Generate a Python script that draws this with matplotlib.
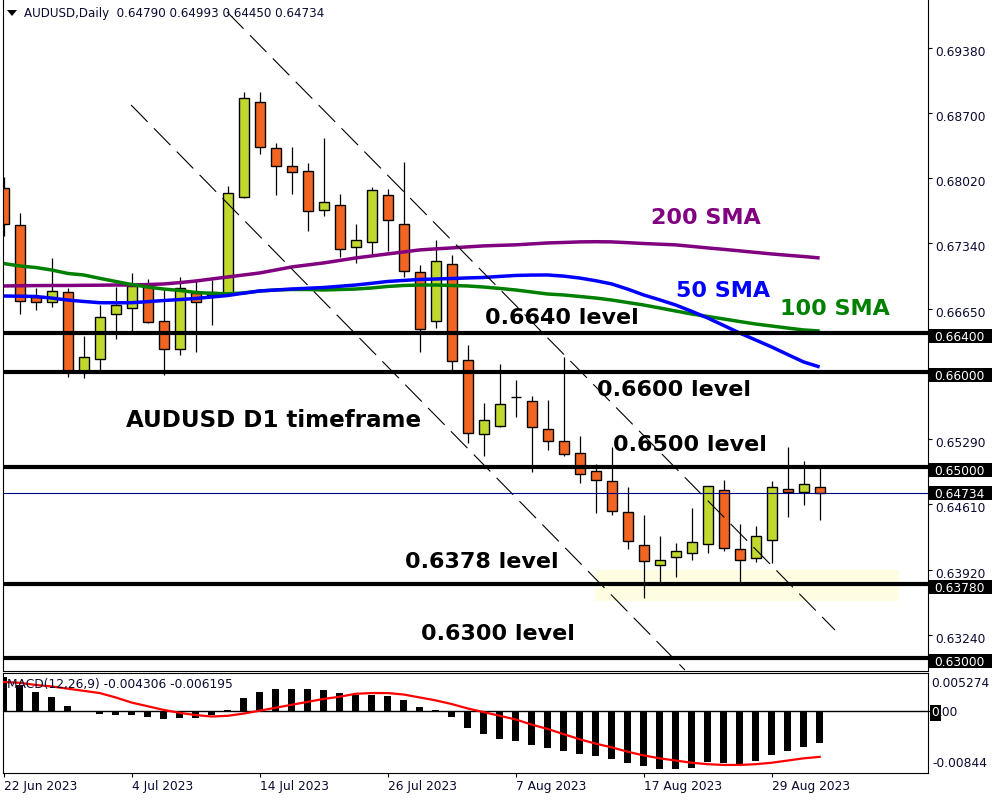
import numpy as np
import matplotlib
matplotlib.use('Agg')
import matplotlib.pyplot as plt
import matplotlib.transforms as mtransforms
from matplotlib.patches import Rectangle, Polygon

plt.rcParams['lines.scale_dashes'] = False

# ---- AUDUSD daily candles, 22 Jun 2023 .. 1 Sep 2023 ----
opens = [0.67917, 0.67530, 0.66780, 0.66727, 0.66832, 0.65995, 0.66131, 0.66602, 0.66665, 0.66895,
         0.66529, 0.66236, 0.66822, 0.66801, 0.66822, 0.67826, 0.68819, 0.68338, 0.68147, 0.68095,
         0.67687, 0.67739, 0.67300, 0.67352, 0.67843, 0.67540, 0.67038, 0.66526, 0.67122, 0.66118,
         0.65344, 0.65434, 0.65732, 0.65689, 0.65396, 0.65270, 0.65145, 0.64957, 0.64852, 0.64528,
         0.64183, 0.63973, 0.64057, 0.64099, 0.64193, 0.64758, 0.64141, 0.64047, 0.64235, 0.64768,
         0.64737, 0.64790]
highs = [0.68035, 0.67661, 0.66874, 0.67188, 0.66874, 0.66372, 0.66696, 0.66884, 0.67031, 0.66968,
         0.66853, 0.66989, 0.66947, 0.66958, 0.67941, 0.68924, 0.68924, 0.68391, 0.68349, 0.68181,
         0.68443, 0.67857, 0.67543, 0.67930, 0.67909, 0.68189, 0.67111, 0.67373, 0.67216, 0.66275,
         0.65668, 0.66076, 0.65912, 0.65744, 0.65702, 0.66149, 0.65326, 0.65033, 0.65214, 0.64795,
         0.64499, 0.64283, 0.64203, 0.64573, 0.64803, 0.64862, 0.64402, 0.64381, 0.64852, 0.65208,
         0.65061, 0.64993]
lows = [0.67418, 0.66602, 0.66644, 0.66675, 0.65943, 0.65932, 0.66006, 0.66340, 0.66403, 0.66508,
        0.65964, 0.66173, 0.66204, 0.66487, 0.66801, 0.67815, 0.68276, 0.67847, 0.67857, 0.67473,
        0.67630, 0.67201, 0.67135, 0.67230, 0.67264, 0.66986, 0.66208, 0.66452, 0.66016, 0.65249,
        0.65120, 0.65423, 0.65528, 0.64952, 0.65179, 0.65120, 0.64837, 0.64524, 0.64499, 0.64144,
        0.63628, 0.63795, 0.63854, 0.64024, 0.64102, 0.64120, 0.63785, 0.64005, 0.63994, 0.64482,
        0.64601, 0.64450]
closes = [0.67540, 0.66735, 0.66727, 0.66842, 0.65995, 0.66152, 0.66571, 0.66696, 0.66895, 0.66518,
          0.66236, 0.66874, 0.66727, 0.66832, 0.67868, 0.68861, 0.68349, 0.68150, 0.68084, 0.67676,
          0.67770, 0.67279, 0.67373, 0.67896, 0.67582, 0.67049, 0.66442, 0.67153, 0.66107, 0.65354,
          0.65490, 0.65664, 0.65730, 0.65417, 0.65270, 0.65134, 0.64925, 0.64862, 0.64538, 0.64224,
          0.64015, 0.64026, 0.64120, 0.64214, 0.64800, 0.64151, 0.64026, 0.64277, 0.64789, 0.64737,
          0.64821, 0.64734]

sma50 = [0.66790, 0.66788, 0.66785, 0.66768, 0.66748, 0.66733, 0.66720, 0.66719, 0.66720, 0.66731,
         0.66743, 0.66753, 0.66764, 0.66780, 0.66795, 0.66820, 0.66843, 0.66853, 0.66863, 0.66871,
         0.66879, 0.66892, 0.66905, 0.66923, 0.66942, 0.66953, 0.66963, 0.66968, 0.66973, 0.66979,
         0.66984, 0.66995, 0.67005, 0.67009, 0.67010, 0.66998, 0.66978, 0.66950, 0.66916, 0.66862,
         0.66801, 0.66750, 0.66696, 0.66630, 0.66560, 0.66482, 0.66403, 0.66330, 0.66257, 0.66178,
         0.66100, 0.66048]
sma100 = [0.67130, 0.67104, 0.67088, 0.67062, 0.67026, 0.67010, 0.66975, 0.66942, 0.66910, 0.66884,
          0.66863, 0.66848, 0.66827, 0.66818, 0.66813, 0.66822, 0.66842, 0.66853, 0.66858, 0.66858,
          0.66853, 0.66858, 0.66863, 0.66874, 0.66890, 0.66900, 0.66905, 0.66905, 0.66900, 0.66895,
          0.66884, 0.66869, 0.66853, 0.66832, 0.66811, 0.66801, 0.66785, 0.66769, 0.66748, 0.66722,
          0.66696, 0.66665, 0.66633, 0.66602, 0.66576, 0.66550, 0.66523, 0.66497, 0.66476, 0.66455,
          0.66435, 0.66424]
sma200 = [0.66895, 0.66897, 0.66899, 0.66900, 0.66900, 0.66902, 0.66903, 0.66905, 0.66905, 0.66910,
          0.66916, 0.66930, 0.66947, 0.66968, 0.66989, 0.67010, 0.67031, 0.67062, 0.67094, 0.67115,
          0.67136, 0.67162, 0.67188, 0.67209, 0.67230, 0.67251, 0.67272, 0.67283, 0.67293, 0.67304,
          0.67314, 0.67320, 0.67325, 0.67335, 0.67345, 0.67350, 0.67356, 0.67358, 0.67356, 0.67348,
          0.67339, 0.67332, 0.67325, 0.67309, 0.67293, 0.67278, 0.67262, 0.67246, 0.67230, 0.67216,
          0.67203, 0.67188]

# MACD(12,26,9): main as histogram, signal as line
macd_main = [0.0047, 0.0036, 0.0027, 0.0020, 0.0008, 0.00005, -0.0004, -0.00055, -0.00055, -0.0007,
             -0.0011, -0.0009, -0.0009, -0.0005, 0.0002, 0.0018, 0.0026, 0.0030, 0.0031, 0.0030,
             0.0029, 0.0025, 0.0022, 0.0022, 0.0021, 0.0015, 0.0006, 0.0002, -0.0008, -0.0022,
             -0.0031, -0.0037, -0.0040, -0.0046, -0.0050, -0.0054, -0.0058, -0.0061, -0.0065, -0.0071,
             -0.0075, -0.0079, -0.0079, -0.0077, -0.0069, -0.0071, -0.0072, -0.0068, -0.0060, -0.0054,
             -0.0048, -0.0043]
macd_signal = [0.0040, 0.0039, 0.0036, 0.0034, 0.0031, 0.0028, 0.0025, 0.0019, 0.0012, 0.0007,
               0.0002, -0.0002, -0.0005, -0.0007, -0.0006, -0.0003, 0.0001, 0.0005, 0.0009, 0.0013,
               0.0017, 0.0020, 0.0024, 0.0025, 0.0025, 0.0023, 0.0019, 0.0015, 0.0010, 0.0004,
               -0.0001, -0.0006, -0.0011, -0.0018, -0.0024, -0.0031, -0.0038, -0.0044, -0.0049, -0.0055,
               -0.0060, -0.0064, -0.0067, -0.0070, -0.0072, -0.0073, -0.0073, -0.0072, -0.0070, -0.0067,
               -0.0064, -0.0062]

date_labels = ['22 Jun 2023', '4 Jul 2023', '14 Jul 2023', '26 Jul 2023',
               '7 Aug 2023', '17 Aug 2023', '29 Aug 2023']
date_bars = [0, 8, 16, 24, 32, 40, 48]

price_ticks = [0.69380, 0.68700, 0.68020, 0.67340, 0.66650, 0.65290, 0.64610, 0.63920, 0.63240]
levels = [0.6640, 0.6600, 0.6500, 0.6378, 0.6300]
level_names = ['0.6640 level', '0.6600 level', '0.6500 level', '0.6378 level', '0.6300 level']
last_price = 0.64734

# support zone (bar range, price range)
zone_bars = [36.96, 55.96]
zone_prices = [0.6360, 0.6392]

# hand-drawn channel (bar index, price)
chan_upper = ([13.96, 51.96], [0.69761, 0.63296])
chan_lower = ([7.96, 42.58], [0.68788, 0.62878])

up_col = '#c2d72f'
down_col = '#f26522'
txt_col = '#0a0a30'
small = 8.8

opens = np.array(opens); closes = np.array(closes)
x = np.arange(len(opens))

fig = plt.figure(figsize=(10, 8), dpi=100)
ax = fig.add_axes([0.0027, 0.161625, 0.9256, 0.838375])
ax2 = fig.add_axes([0.0027, 0.033375, 0.9256, 0.12575])

xlim = (-0.0625, 57.79)
ax.set_xlim(*xlim)
ax.set_ylim(0.62871, 0.69886)

# zone
ax.add_patch(Rectangle((zone_bars[0], zone_prices[0]), zone_bars[1] - zone_bars[0],
                       zone_prices[1] - zone_prices[0], facecolor='#fffde1', edgecolor='none', zorder=0.5))

# candles
colors = np.where(closes >= opens, up_col, down_col)
ax.vlines(x, lows, highs, color='black', lw=0.9, zorder=2)
ax.bar(x, np.abs(closes - opens), bottom=np.minimum(opens, closes), width=0.64,
       color=colors, edgecolor='black', linewidth=1.0, zorder=2.2)

# moving averages
ax.plot(x, sma200, color='#800080', lw=2.5, zorder=3, solid_capstyle='butt')
ax.plot(x, sma100, color='#008000', lw=2.5, zorder=3, solid_capstyle='butt')
ax.plot(x, sma50, color='#0000ff', lw=2.5, zorder=3, solid_capstyle='butt')

# channel lines
for cx, cy in (chan_upper, chan_lower):
    ax.plot(cx, cy, color='black', lw=0.8, ls=(0, (17, 6.5)), zorder=3.5)

# horizontal levels
for lv in levels:
    ax.axhline(lv, color='black', lw=3, zorder=4)
ax.axhline(last_price, color='#000080', lw=0.8, zorder=3.8)

# annotations
fs = 16
ax.text(40.46, 0.67606, '200 SMA', color='#800080', fontsize=fs, fontweight='bold', va='center', zorder=5)
ax.text(42.02, 0.66842, '50 SMA', color='#0000ff', fontsize=fs, fontweight='bold', va='center', zorder=5)
ax.text(48.52, 0.66654, '100 SMA', color='#008000', fontsize=fs, fontweight='bold', va='center', zorder=5)
ax.text(7.64, 0.65493, 'AUDUSD D1 timeframe', color='black', fontsize=16.6, fontweight='bold',
        va='center', zorder=5)
name_pos = [(30.08, 0.66560), (37.08, 0.65807), (38.08, 0.65232), (25.08, 0.64008), (26.08, 0.63255)]
for (tx, ty), name in zip(name_pos, level_names):
    ax.text(tx, ty, name, color='black', fontsize=fs, fontweight='bold', va='center', zorder=5)

# right price axis
ax.set_xticks([])
ax.yaxis.tick_right()
ax.set_yticks(price_ticks)
ax.set_yticklabels([f'{t:.5f}' for t in price_ticks])
ax.tick_params(axis='y', direction='out', length=3, width=0.8, pad=2, labelsize=small, labelcolor=txt_col)
shift = mtransforms.ScaledTranslation(0, -2.5 / 100, fig.dpi_scale_trans)
for lab in ax.get_yticklabels():
    lab.set_transform(lab.get_transform() + shift)
for s in ax.spines.values():
    s.set_linewidth(0.8)
ax.spines['top'].set_visible(False)

# black price boxes on the axis
px = 0.0001046
btrans = mtransforms.blended_transform_factory(ax.transAxes, ax.transData)
for lv in levels + [last_price]:
    off = 0 if lv == last_price else 3 * px
    ax.add_patch(Rectangle((1.0007, lv - off - 7 * px), 0.068, 14 * px, transform=btrans,
                           facecolor='black', edgecolor='none', clip_on=False, zorder=10))
    ax.text(1.0062, lv - off, f'{lv:.5f}', transform=btrans, color='white', fontsize=small,
            va='center_baseline', ha='left', clip_on=False, zorder=11)

# MACD panel
ax2.set_xlim(*xlim)
ax2.set_ylim(-0.00844, 0.005274)
ax2.bar(x, macd_main, width=0.42, color='black', zorder=2)
ax2.plot(x, macd_signal, color='#ff0000', lw=1.6, zorder=3)
ax2.axhline(0, color='black', lw=1.0, zorder=2.5)
ax2.set_xticks(date_bars)
ax2.set_xticklabels(date_labels, ha='left')
ax2.tick_params(axis='x', direction='out', length=3, width=0.8, pad=1.5, labelsize=small, labelcolor=txt_col)
ax2.yaxis.tick_right()
ax2.set_yticks([0])
ax2.set_yticklabels([''])
ax2.tick_params(axis='y', direction='out', length=3, width=0.8)
for s in ax2.spines.values():
    s.set_linewidth(0.8)

ax2.text(1.0032, 0.8976, '0.005274', transform=ax2.transAxes, fontsize=small, color=txt_col,
         va='center', ha='left', clip_on=False)
ax2.text(1.0042, 0.102, '-0.00844', transform=ax2.transAxes, fontsize=small, color=txt_col,
         va='center', ha='left', clip_on=False)
ztrans = mtransforms.blended_transform_factory(ax2.transAxes, ax2.transData)
ax2.text(1.0035, 0, '0', transform=ztrans, fontsize=small, color='white', va='center_baseline', ha='left',
         clip_on=False, zorder=11, bbox=dict(boxstyle='square,pad=0.1', fc='black', ec='none'))
ax2.text(1.0118, 0, '.00', transform=ztrans, fontsize=small, color=txt_col, va='center_baseline', ha='left',
         clip_on=False, zorder=11)
ax2.text(0.005, 0.878, 'MACD(12,26,9) -0.004306 -0.006195', transform=ax2.transAxes, fontsize=small,
         color=txt_col, va='center', ha='left', zorder=6)

# header
fig.patches.append(Polygon([[0.007, 1 - 10 / 800], [0.017, 1 - 10 / 800], [0.012, 1 - 16 / 800]],
                           closed=True, transform=fig.transFigure, facecolor='black', edgecolor='none'))
fig.text(0.024, 1 - 14 / 800, 'AUDUSD,Daily  0.64790 0.64993 0.64450 0.64734', fontsize=8.6,
         color=txt_col, va='center', ha='left')

fig.savefig('out.png', dpi=100, facecolor='white')
